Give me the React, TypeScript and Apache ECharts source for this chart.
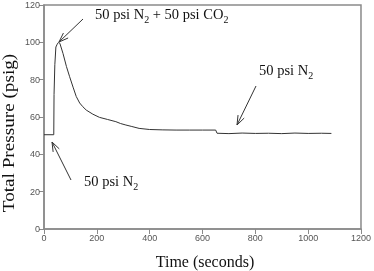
import React, { useEffect, useRef } from "react";
import * as echarts from "echarts";

const timeSec = [0, 37, 38, 41, 45, 50, 55, 60, 72, 85, 97, 110, 122, 135, 147, 160, 185, 210, 240, 272, 290, 310, 330, 360, 400, 450, 500, 550, 600, 650, 655, 700, 750, 800, 850, 900, 950, 1000, 1050, 1088];
const pressure = [50.5, 50.5, 72, 88, 97.5, 99, 100, 99.5, 94, 87, 81.6, 76, 71, 67.5, 65.5, 63.7, 61.5, 59.8, 58.7, 57.5, 56.5, 55.7, 55, 53.9, 53.3, 53.1, 53, 53, 53, 53, 51.3, 51.1, 51.4, 51.2, 51.3, 51.1, 51.4, 51.2, 51.3, 51.2];

const xTicks = [0, 200, 400, 600, 800, 1000, 1200];
const yTicks = [0, 20, 40, 60, 80, 100, 120];

const SERIF = "'Liberation Serif', 'Times New Roman', serif";
const SANS = "'Liberation Sans', Arial, sans-serif";

function arrow(tail: number[], tip: number[]) {
  const ang = Math.atan2(tail[1] - tip[1], tail[0] - tip[0]);
  const len = 10;
  const spread = 0.35;
  const b1 = [tip[0] + len * Math.cos(ang + spread), tip[1] + len * Math.sin(ang + spread)];
  const b2 = [tip[0] + len * Math.cos(ang - spread), tip[1] + len * Math.sin(ang - spread)];
  const st = { stroke: "#333", lineWidth: 1, fill: null };
  return [
    { type: "line", shape: { x1: tail[0], y1: tail[1], x2: tip[0], y2: tip[1] }, style: st },
    { type: "polyline", shape: { points: [b1, tip, b2] }, style: st },
  ];
}

let ctx: CanvasRenderingContext2D | null = null;
function measure(t: string, fs: number) {
  if (!ctx) ctx = document.createElement("canvas").getContext("2d");
  ctx!.font = `${fs}px ${SERIF}`;
  return ctx!.measureText(t).width;
}

function label(x: number, y: number, parts: { t: string; sub?: boolean }[], size = 14.5) {
  const els: any[] = [];
  let cx = x;
  for (const p of parts) {
    const fs = p.sub ? Math.round(size * 0.72) : size;
    els.push({
      type: "text",
      x: cx,
      y: p.sub ? y + 3 : y,
      style: { text: p.t, font: `${fs}px ${SERIF}`, fill: "#111", align: "left", verticalAlign: "bottom" },
    });
    cx += measure(p.t, fs);
  }
  return els;
}

export default function App() {
  const ref = useRef<HTMLDivElement>(null);
  useEffect(() => {
    const chart = echarts.init(ref.current!, null, { renderer: "svg" });
    const axisCommon = {
      axisLine: { show: true, lineStyle: { color: "#8a8a8a", width: 1.5 } },
      axisTick: { show: true, inside: false, length: 5, lineStyle: { color: "#8a8a8a", width: 1 } },
      splitLine: { show: false },
      axisLabel: { color: "#555", fontFamily: SANS, fontSize: 9, margin: 4, formatter: (v: number) => String(v) },
    };
    chart.setOption({
      animation: false,
      grid: { left: 44, right: 10, top: 5, bottom: 42, show: true, borderColor: "#8a8a8a", borderWidth: 1.5, containLabel: false },
      xAxis: {
        type: "value",
        min: xTicks[0],
        max: xTicks[xTicks.length - 1],
        interval: 200,
        ...axisCommon,
      },
      yAxis: {
        type: "value",
        min: yTicks[0],
        max: yTicks[yTicks.length - 1],
        interval: 20,
        ...axisCommon,
      },
      series: [
        {
          type: "line",
          data: timeSec.map((t, i) => [t, pressure[i]]),
          showSymbol: false,
          lineStyle: { color: "#333", width: 1 },
        },
      ],
      graphic: [
        {
          type: "text",
          x: 9,
          y: 133,
          rotation: Math.PI / 2,
          scaleX: 1.2,
          style: { text: "Total Pressure (psig)", font: `16px ${SERIF}`, fill: "#111", align: "center", verticalAlign: "middle" },
        },
        {
          type: "text",
          x: 205,
          y: 261,
          style: { text: "Time (seconds)", font: `16px ${SERIF}`, fill: "#111", align: "center", verticalAlign: "middle" },
        },
        ...label(95, 21, [{ t: "50 psi N" }, { t: "2", sub: true }, { t: " + 50 psi CO" }, { t: "2", sub: true }]),
        ...label(259, 77, [{ t: "50 psi N" }, { t: "2", sub: true }]),
        ...label(84, 188, [{ t: "50 psi N" }, { t: "2", sub: true }]),
        ...arrow([83, 19], [59, 42]),
        ...arrow([256, 86], [237, 125]),
        ...arrow([71, 180], [52, 142]),
      ],
    });
    return () => chart.dispose();
  }, []);
  return <div ref={ref} style={{ position: "fixed", left: 0, top: 0, width: 374, height: 271 }} />;
}
